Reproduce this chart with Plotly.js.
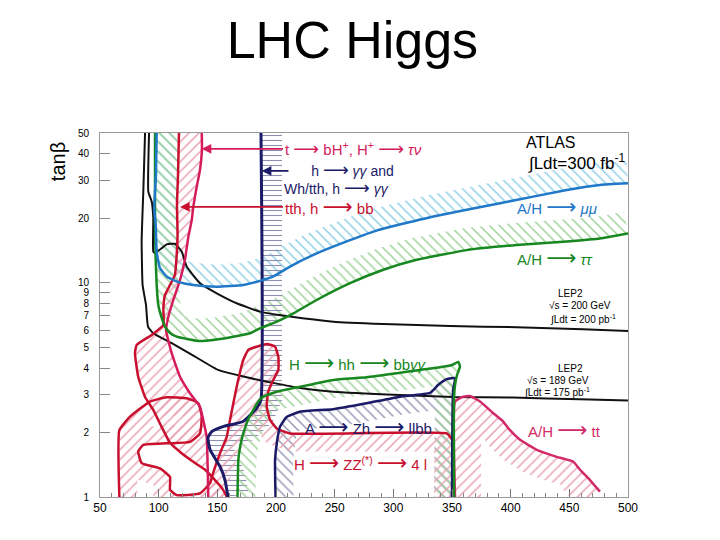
<!DOCTYPE html>
<html><head><meta charset="utf-8">
<script src="https://cdn.plot.ly/plotly-3.0.1.min.js"></script>
<style>body{margin:0;background:#fff}#chart{width:720px;height:540px}</style>
</head><body><div id="chart"></div>
<script>
// ---------- data (m_A in GeV, tan beta) ----------
const xTicks = [50,100,150,200,250,300,350,400,450,500];
const yTicks = [1,2,3,4,5,6,7,8,9,10,20,30,40,50];
const yTickText = ['1','2','3','4','5','6','7','8','9','10','20','30','40','50'];

const lep200_x = [91.8,91.2,94.1,95.4,95.4,96.9,102.6,106.8,113.9,119.6,123.9,135.2,149.5,166.5,186.4,212,248.8,291.4,348.3,405.1,461.7,500];
const lep200_y = [50,26.6,23.9,20.1,14.0,13.8,14.5,15.1,15.2,14.0,11.9,9.95,8.93,8.02,7.33,6.95,6.58,6.42,6.28,6.20,6.07,5.95];

const lep189_x = [88.4,86.9,85.5,86.3,89.2,90.9,95.4,111.1,131,150.6,177.8,197.4,220.5,248.6,305.7,350.9,402,459.1,500];
const lep189_y = [50,26.6,15.8,9.77,7.88,6.24,5.81,5.22,4.52,3.92,3.59,3.41,3.23,3.10,2.99,2.93,2.91,2.86,2.82];

const mumu_x = [98.3,97.7,96.2,97.5,98.3,101.1,106.8,116.5,129.5,149.5,172.1,186.4,197.7,211.9,234.7,263.1,286.9,334.1,390.9,447.8,476.1,500];
const mumu_y = [50,31.9,22.3,18.6,13.9,11.7,10.7,10.1,9.77,9.59,9.77,10.2,10.7,11.9,13.7,15.8,17.6,20.4,23.5,27.1,28.6,29.1];

const tautau_x = [96.9,96.9,96.9,97.4,98.3,99.7,102.6,105.4,109.7,115.4,133.5,149.5,163.6,177.8,186.4,200.6,214.8,234.7,263.1,291.5,319.9,362.4,405.1,447.8,476.1,500];
const tautau_y = [50,29.6,18.6,13.1,9.77,7.88,6.85,6.24,5.83,5.60,5.35,5.44,5.60,5.81,6.13,6.58,7.20,8.31,9.95,11.5,12.8,14.2,15.0,15.6,16.1,17.0];

const hgg_x = [187.2,187.2,183.6,171.9,154.8,145.2,142,143.8,152.3,156.5,159.1];
const hgg_y = [50,2.84,2.60,2.25,2.13,2.02,1.89,1.66,1.385,1.20,1];

const azh_x = [199.6,199.2,201.1,203.4,209.1,220.5,248.6,277.2,305.7,331.3,338.1,345.5,352.6,350.9,350];
const azh_y = [1,1.49,1.85,2.13,2.36,2.50,2.57,2.74,2.94,3.06,3.33,3.55,3.59,3.16,1];

const hhbb_x = [167.2,167.9,169.7,172.1,176.1,180.7,184.9,189.2,200.6,220.5,248.8,277.2,302.9,322.7,339.8,349.8,355.4,356.8,354.3,352.6,351.7,351.7];
const hhbb_y = [1,1.49,1.75,1.98,2.29,2.55,2.79,2.94,3.10,3.27,3.52,3.62,3.78,3.92,4.03,4.13,4.27,4.06,3.71,3.33,2.84,1];

const tt_x = [352.6,352.6,359.6,365.4,373.9,385.2,393.6,399.4,408,422.2,439.2,453.4,459.1,467.6,476.1];
const tt_y = [1,2.79,2.94,2.96,2.79,2.46,2.25,2.05,1.85,1.66,1.54,1.46,1.34,1.20,1.06];

const tth_x = [117.3,116.5,115.6,116.1,115.2,113.9,109.7,105.4,104,104,94.1,81.3,79.8,82.6,88.4,95.4,102.6,109.7,119.6,131,139.5,148,154,158.2];
const tth_y = [50,31.9,23.1,16.7,13.1,10.9,9.77,8.77,7.63,6.35,5.71,5.13,4.70,3.63,2.93,2.55,2.12,1.79,1.60,1.44,1.34,1.20,1.10,1];

const tbh_x = [136.7,136.9,135.2,132.4,129.5,128.2,125.3,122.4,118.2,112.5,108.2,106.3,111.1,118.2,126.7,135.2,138,140.9,141.5,142.3];
const tbh_y = [50,41.7,33.6,28.0,22.6,19.6,16.4,12.8,10.3,8.31,6.92,6.02,4.69,3.64,3.05,2.64,2.29,1.91,1.60,1];

const zz_x = [66.5,66.5,75.6,92.6,106.8,123.9,133.8,136.7,135.2,126.7,106.8,86.9,82.6,85.5,101.1,109.7,109.7,115.4,135.2,143.8,146.3,152.3,158,160.8,166.5,172.1,176.4,183.6,192.1,199.2,202,202,197.7,193.4,192.1,194.9,200.6,211.9,345.5,350,350];
const zz_y = [1,2.05,2.37,2.79,2.92,2.89,2.74,2.37,1.98,1.81,1.78,1.75,1.63,1.44,1.36,1.24,1.08,1.02,1.04,1.16,1.29,1.60,1.91,2.29,3.27,4.36,4.86,5.03,5.18,5.03,4.50,3.92,3.52,3.10,2.64,2.29,2.09,1.98,1.98,1.85,1];

// ---------- colours ----------
const C = {
  black:'#111111', blue:'#1f78c8', green:'#17871f', navy:'#1a1a66',
  red:'#c8102e', pink:'#d41c5c', tt:'#d22a68',
  blueH:'#8fcfe6', greenH:'#9fd29a', navyH:'#8e8eae', redH:'#e9a2b2', navyH2:'#9a9ab8'
};

// ---------- band helper (hatched side-band along a contour) ----------
const X0 = 50, X1 = 500, YMAX = 50, PW = 528, PH = 364;
const SX = PW/(X1-X0), SY = PH/Math.log10(YMAX);
function band(xs, ys, d, side){
  const u = xs.map(x => (x-X0)*SX), v = ys.map(y => Math.log10(y)*SY);
  const n = u.length, ox = [], oy = [];
  for (let i=0;i<n;i++){
    const a = Math.max(i-1,0), b = Math.min(i+1,n-1);
    let tx = u[b]-u[a], ty = v[b]-v[a];
    const L = Math.hypot(tx,ty) || 1; tx/=L; ty/=L;
    const nx = -ty*side, ny = tx*side;
    ox.push(X0 + (u[i]+nx*d)/SX);
    oy.push(Math.pow(10,(v[i]+ny*d)/SY));
  }
  return {x: xs.concat(ox.reverse()), y: ys.concat(oy.reverse())};
}
function hatch(poly, shape, color, size){
  return {type:'scatter', mode:'none', x:poly.x, y:poly.y, fill:'toself',
    fillcolor:'rgba(0,0,0,0)', hoverinfo:'skip', showlegend:false,
    fillpattern:{shape:shape, fgcolor:color, bgcolor:'rgba(0,0,0,0)', size:size||6, solidity:0.22}};
}
function line(xs, ys, color, w){
  return {type:'scatter', mode:'lines', x:xs, y:ys, line:{color:color, width:w||2.5, shape:'spline', smoothing:0.4},
    hoverinfo:'skip', showlegend:false};
}

const traces = [
  hatch(band(mumu_x, mumu_y, 22, 1), '\\', C.blueH, 7),
  hatch(band(tautau_x, tautau_y, 22, 1), '\\', C.greenH, 7),
  hatch(band(hgg_x, hgg_y, 21, 1), '-', C.navyH, 5),
  hatch(band(azh_x, azh_y, 18, -1), '\\', C.navyH2, 7),
  hatch(band(hhbb_x, hhbb_y, 18, -1), '\\', C.greenH, 7),
  hatch(band(tt_x, tt_y, 26, -1), '/', C.redH, 7),
  hatch(band(zz_x, zz_y, 18, -1), '/', C.redH, 7),
  hatch({x: tth_x.concat(tbh_x.slice().reverse()), y: tth_y.concat(tbh_y.slice().reverse())}, '/', C.redH, 7),

  line(lep200_x, lep200_y, C.black, 2),
  line(lep189_x, lep189_y, C.black, 2),
  line(tt_x, tt_y, C.tt, 2.5),
  line(zz_x, zz_y, C.red, 2.5),
  line(tth_x, tth_y, C.red, 2.5),
  line(tbh_x, tbh_y, C.pink, 2.5),
  line(azh_x, azh_y, C.navy, 2.5),
  line(hgg_x, hgg_y, C.navy, 3),
  line(hhbb_x, hhbb_y, C.green, 2.5),
  line(tautau_x, tautau_y, C.green, 2.5),
  line(mumu_x, mumu_y, C.blue, 2.5)
];

const F = 'Liberation Sans, Arial, DejaVu Sans, sans-serif';
const AR = '<span style="font-size:21px">⟶</span>';
const ARs = '<span style="font-size:18px">⟶</span>';
const IND = '\u00a0\u00a0\u00a0\u00a0\u00a0\u00a0\u00a0';
function txt(x, ly, text, color, size, anchor){
  return {x:x, y:ly, xref:'x', yref:'y', text:text, showarrow:false, xanchor:anchor||'left', yanchor:'middle',
    align:'left', font:{family:F, size:size, color:color}};
}
function ptxt(xh, xt, ly, text, color, size, gap){
  return {x:xh, y:ly, ax:xt, ay:ly, xref:'x', yref:'y', axref:'x', ayref:'y', text:text, showarrow:true,
    xanchor:'left', yanchor:'middle', arrowhead:2, arrowsize:1.2, arrowwidth:1.6, arrowcolor:color,
    startstandoff:gap||0, font:{family:F, size:size, color:color}};
}

const annotations = [
  ptxt(136.7, 206, 1.625, 't '+ARs+' bH<sup>+</sup>, H<sup>+</sup> '+ARs+' <i>τν</i>', C.pink, 15),
  {x:187.9, y:1.522, ax:211.9, ay:1.522, xref:'x', yref:'y', axref:'x', ayref:'y', text:'', showarrow:true,
   arrowhead:2, arrowsize:1.2, arrowwidth:1.6, arrowcolor:C.navy},
  txt(205.1, 1.485, IND+'h '+ARs+' <i>γγ</i> and<br>Wh/tth, h '+ARs+' <i>γγ</i>', C.navy, 14),
  ptxt(118.2, 206, 1.354, 'tth, h '+AR+' bb', C.red, 15),
  txt(434.4, 1.653, 'ATLAS', '#000', 16, 'center'),
  txt(499, 1.564, '∫Ldt=300 fb<sup>-1</sup>', '#000', 17, 'right'),
  txt(403.7, 1.354, 'A/H '+AR+' <i>μμ</i>', C.blue, 15),
  txt(403.7, 1.116, 'A/H '+AR+' <i>ττ</i>', C.green, 15),
  txt(450.6, 0.952, 'LEP2', '#000', 10, 'center'),
  txt(431, 0.892, '√s = 200 GeV', '#000', 10),
  txt(431.8, 0.831, '∫Ldt = 200 pb<sup>-1</sup>', '#000', 10),
  txt(451.4, 0.598, 'LEP2', '#000', 10, 'center'),
  txt(412.2, 0.546, '√s = 189 GeV', '#000', 10),
  txt(409.7, 0.490, '∫Ldt = 175 pb<sup>-1</sup>', '#000', 10),
  txt(413.1, 0.317, 'A/H '+AR+' tt', C.tt, 15),
  txt(209.4, 0.626, 'H '+AR+' hh '+AR+' bb<i>γγ</i>', C.green, 15),
  txt(223, 0.331, 'A '+AR+' Zh '+AR+' llbb', C.navy, 15),
  txt(213.6, 0.163, 'H '+AR+' ZZ<sup>(*)</sup> '+AR+' 4 l', C.red, 15),
  {xref:'paper', yref:'paper', x:-0.0795, y:0.92, text:'tanβ', textangle:-90, showarrow:false,
   xanchor:'center', yanchor:'middle', font:{family:F, size:20, color:'#000'}}
];

const layout = {
  width:720, height:540,
  margin:{l:100, r:92, t:133, b:43},
  paper_bgcolor:'#fff', plot_bgcolor:'#fff',
  title:{text:'LHC Higgs', x:0.478, xref:'paper', y:0.926, yref:'container', xanchor:'center', yanchor:'middle',
         font:{family:F, size:52, color:'#000'}},
  showlegend:false,
  xaxis:{range:[50,500], tick0:50, dtick:50, ticks:'inside', ticklen:8, tickcolor:'#777', tickwidth:1,
         minor:{dtick:10, tick0:50, ticks:'inside', ticklen:4, tickcolor:'#888'},
         showgrid:false, zeroline:false, showline:true, mirror:true, linecolor:'#9a9a9a', linewidth:1,
         tickfont:{family:F, size:12, color:'#000'}},
  yaxis:{type:'log', range:[0, Math.log10(50)], tickvals:yTicks, ticktext:yTickText,
         ticks:'inside', ticklen:10, tickcolor:'#888', tickwidth:1, ticklabelstandoff:8,
         showgrid:false, zeroline:false, showline:true, mirror:true, linecolor:'#9a9a9a', linewidth:1,
         tickfont:{family:F, size:10, color:'#000'}},
  annotations:annotations
};

Plotly.newPlot('chart', traces, layout, {displayModeBar:false, staticPlot:true});
</script></body></html>
